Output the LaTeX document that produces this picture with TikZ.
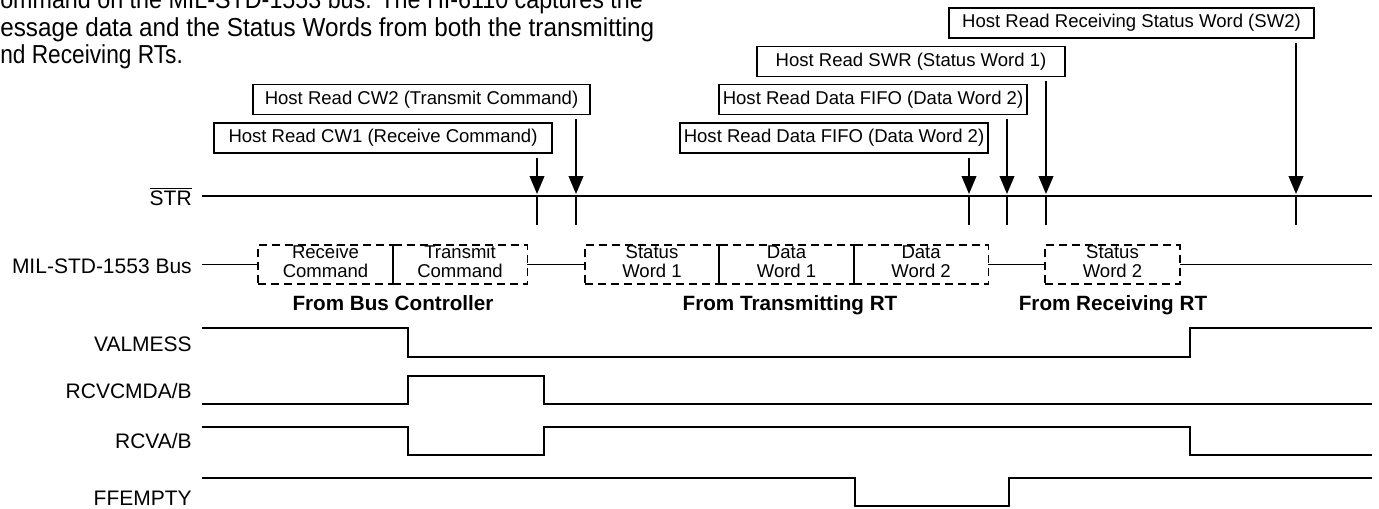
\documentclass[tikz,border=0pt]{standalone}
\usepackage{fontspec}
\setmainfont{Liberation Sans}
\usetikzlibrary{arrows.meta,positioning}

\begin{document}
\begin{tikzpicture}[x=0.75pt,y=-0.75pt,
  hb/.style={rectangle,draw,line width=1.2pt,minimum height=22.5pt,inner sep=0pt,font=\fontsize{13.9}{16}\selectfont},
  bw/.style={rectangle,draw,dash pattern=on 6pt off 3.75pt,line width=1.2pt,minimum width=100.9pt,minimum height=29.25pt,inner sep=0pt,outer sep=0pt,align=center,text depth=4.5pt,font=\fontsize{13.9}{14.25}\selectfont},
  sl/.style={anchor=base east,inner sep=0pt,font=\fontsize{15.75}{18}\selectfont},
  gl/.style={anchor=base,inner sep=0pt,font=\fontsize{15.5}{18}\selectfont\bfseries},
  tx/.style={anchor=base west,inner sep=0pt,font=\fontsize{19.5}{22}\selectfont},
  sg/.style={line width=1.4pt},
  ra/.style={-{Triangle[length=13.5pt,width=11pt]},line width=1.4pt,shorten <=3pt}
]
  \useasboundingbox (0,0) rectangle (1379,508);
  \clip (0,0) rectangle (1379,508);

  \node[tx] (p1) at (0,8) {\resizebox{482pt}{\height}{ommand on the MIL-STD-1553 bus. The HI-6110 captures the}};
  \node[tx] (p2) at (0,36) {\resizebox{490.5pt}{\height}{essage data and the Status Words from both the transmitting}};
  \node[tx] (p3) at (0,63) {\resizebox{137pt}{\height}{nd Receiving RTs.}};

  \node[hb,minimum width=273.75pt] (sw2) at (1131.5,23) {Host Read Receiving Status Word (SW2)};
  \node[hb,minimum width=231pt] (swr) at (911,61.5) {Host Read SWR (Status Word 1)};
  \node[hb,minimum width=231pt] (dfb) at (873,99.5) {Host Read Data FIFO (Data Word 2)};
  \node[hb,minimum width=231pt] (dfa) at (834,138) {Host Read Data FIFO (Data Word 2)};
  \node[hb,minimum width=252.75pt] (cw2) at (421.5,99.5) {Host Read CW2 (Transmit Command)};
  \node[hb,minimum width=253.5pt] (cw1) at (383,138) {Host Read CW1 (Receive Command)};

  \node[sl] (lstr) at (192,205) {$\overline{\mbox{STR}}$};
  \node[sl] (lbus) at (192,273) {MIL-STD-1553 Bus};
  \node[sl] (lval) at (192,351) {VALMESS};
  \node[sl] (lcmd) at (192,398.5) {RCVCMDA/B};
  \node[sl] (lrcv) at (192,448.5) {RCVA/B};
  \node[sl] (lffe) at (192,505) {FFEMPTY};

  \coordinate (r1) at (537,194);
  \coordinate (r2) at (576,194);
  \coordinate (r3) at (969,194);
  \coordinate (r4) at (1007,194);
  \coordinate (r5) at (1046,194);
  \coordinate (r6) at (1296,194);
  \draw[sg] (202,196) -- (1372,196);
  \foreach \x in {537,576,969,1007,1046,1296}
    \draw[sg] (\x,196) -- (\x,225);
  \draw[ra] (cw1.south -| r1) -- (r1);
  \draw[ra] (cw2.south -| r2) -- (r2);
  \draw[ra] (dfa.south -| r3) -- (r3);
  \draw[ra] (dfb.south -| r4) -- (r4);
  \draw[ra] (swr.south -| r5) -- (r5);
  \draw[ra] (sw2.south -| r6) -- (r6);

  \node[bw] (bw1) at (325.5,264.5) {Receive\\Command};
  \node[bw,right=0pt of bw1] (bw2) {Transmit\\Command};
  \node[bw] (bw3) at (652,264.5) {Status\\Word 1};
  \node[bw,right=0pt of bw3] (bw4) {Data\\Word 1};
  \node[bw,right=0pt of bw4] (bw5) {Data\\Word 2};
  \node[bw] (bw6) at (1112.5,264.5) {Status\\Word 2};
  \draw[sg] (202,264.5) -- (bw1.west);
  \draw[sg] (bw2.east) -- (bw3.west);
  \draw[sg] (bw5.east) -- (bw6.west);
  \draw[sg] (bw6.east) -- (1372,264.5);

  \node[gl] (gbc) at (393,310) {From Bus Controller};
  \node[gl] (gtr) at (790,310) {From Transmitting RT};
  \node[gl] (grc) at (1113,310) {From Receiving RT};

  \draw[sg] (202,328) -- (408,328) -- (408,357) -- (1190,357) -- (1190,328) -- (1372,328);
  \draw[sg] (202,404) -- (408,404) -- (408,376) -- (544,376) -- (544,404) -- (1372,404);
  \draw[sg] (202,427) -- (408,427) -- (408,455) -- (544,455) -- (544,427) -- (1190,427) -- (1190,455) -- (1372,455);
  \draw[sg] (202,478) -- (855,478) -- (855,506) -- (1009,506) -- (1009,478) -- (1372,478);
\end{tikzpicture}
\end{document}
